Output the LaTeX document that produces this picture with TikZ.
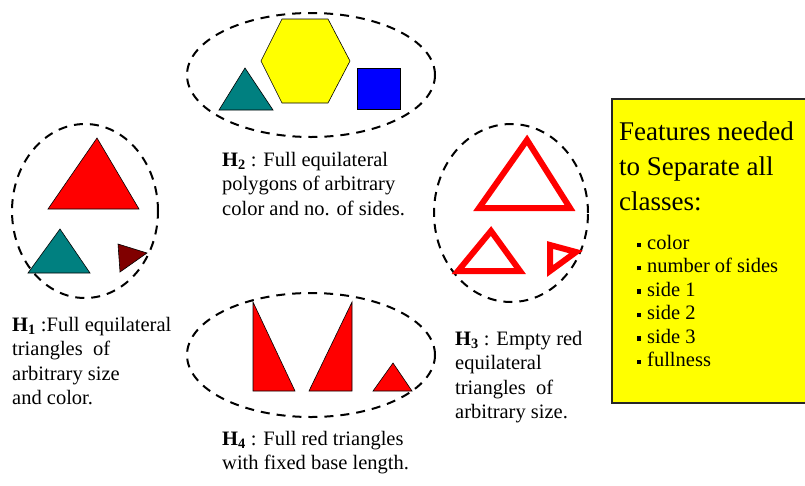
\documentclass[tikz,border=0pt]{standalone}
\usepackage{fontspec}
\setmainfont{Liberation Serif}
\usetikzlibrary{shapes.geometric}
\definecolor{tealc}{RGB}{0,128,128}
\definecolor{redc}{RGB}{255,0,0}
\definecolor{darkredc}{RGB}{128,0,0}
\definecolor{yellowc}{RGB}{255,255,0}
\definecolor{bluec}{RGB}{0,0,255}
\tikzset{
  ell/.style={ellipse, draw=black, line width=2pt, dash pattern=on 9pt off 7pt, inner sep=0pt},
  solidshape/.style={draw=black, line width=0.6pt, line join=miter},
  hollow/.style={draw=redc, line width=6pt, line join=miter},
  lbl/.style={anchor=north west, inner sep=0pt, align=left, font=\fontsize{20.5}{24.3}\selectfont},
  bul/.style={anchor=north west, inner sep=0pt, align=left, font=\fontsize{20.5}{23.4}\selectfont},
  ttl/.style={anchor=north west, inner sep=0pt, align=left, font=\fontsize{27}{35}\selectfont}
}
\newcommand{\sqbul}{\rule[0.25ex]{4pt}{4.5pt}\hspace{6pt}}
\begin{document}
\begin{tikzpicture}[x=1pt,y=-1pt]
\useasboundingbox (0,0) rectangle (805,485);
\fill[white] (0,0) rectangle (805,485);

% ellipses
\node[ell, minimum width=248pt, minimum height=124pt] (e2) at (311,75) {};
\node[ell, minimum width=146pt, minimum height=174pt] (e1) at (85,211) {};
\node[ell, minimum width=154pt, minimum height=178pt] (e3) at (511,213) {};
\node[ell, minimum width=248pt, minimum height=124pt] (e4) at (311,355) {};

% H2 shapes
\fill[yellowc, solidshape] (261,61) -- (282,19) -- (328,19) -- (350,61) -- (328,103) -- (282,103) -- cycle;
\fill[tealc, solidshape] (219,110) -- (273,110) -- (245,68) -- cycle;
\fill[bluec, solidshape] (357,68) rectangle (400,109);

% H1 shapes
\fill[redc, solidshape] (48,209) -- (139,209) -- (97,138) -- cycle;
\fill[tealc, solidshape] (28,273) -- (90,273) -- (60,229) -- cycle;
\fill[darkredc, solidshape] (118,244) -- (147,253) -- (120,272) -- cycle;

% H3 shapes
\draw[hollow] (479,208) -- (570,208) -- (527,140) -- cycle;
\draw[hollow] (458,271) -- (520,271) -- (491,231) -- cycle;
\draw[hollow] (550,245) -- (576,252) -- (550,271) -- cycle;

% H4 shapes
\fill[redc, solidshape] (253,302) -- (253,391) -- (295,391) -- cycle;
\fill[redc, solidshape] (309,391) -- (352,391) -- (352,302) -- cycle;
\fill[redc, solidshape] (373,391) -- (412,391) -- (393,363) -- cycle;

% labels
\node[lbl] (t2) at (222,152) {\textbf{H\textsubscript{2}} : Full equilateral\\polygons of arbitrary\\color and no. of sides.};
\node[lbl] (t1) at (12,317) {\textbf{H\textsubscript{1}} :Full equilateral\\triangles\ \ of\\arbitrary size\\and color.};
\node[lbl] (t3) at (455,331) {\textbf{H\textsubscript{3}} : Empty red\\equilateral\\triangles\ \ of\\arbitrary size.};
\node[lbl] (t4) at (222,431) {\textbf{H\textsubscript{4}} : Full red triangles\\with fixed base length.};

% features box
\draw[fill=yellowc, draw=black!85, line width=1.2pt] (612,99) rectangle (808,403);
\node[ttl] (ft) at (619,122) {Features needed\\to Separate all\\classes:};
\node[bul] (fl) at (637,235) {\sqbul color\\\sqbul number of sides\\\sqbul side 1\\\sqbul side 2\\\sqbul side 3\\\sqbul fullness};
\end{tikzpicture}
\end{document}
